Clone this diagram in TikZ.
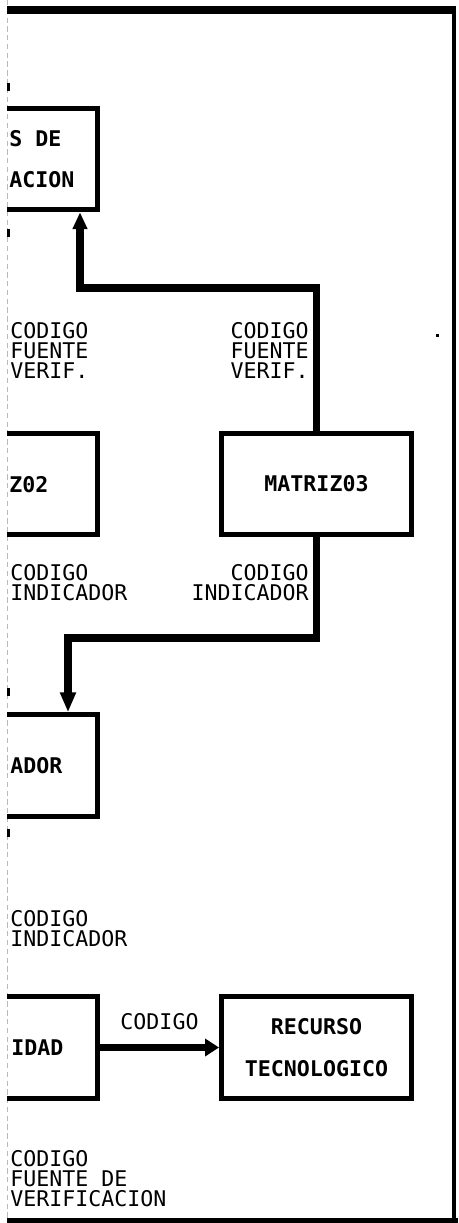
\documentclass[tikz,border=0pt]{standalone}
\usepackage{fontspec}
\setmonofont{DejaVu Sans Mono}
\usetikzlibrary{arrows.meta,positioning,calc}
\tikzset{
  caja/.style={draw,line width=2.8pt,minimum width=3.8cm,minimum height=2.03cm,inner sep=0pt,
    align=center,font=\ttfamily\bfseries\fontsize{12.3}{23.8}\selectfont},
  trozo/.style={inner sep=0pt,font=\ttfamily\bfseries\fontsize{12.3}{23.8}\selectfont},
  etiq/.style={inner sep=0pt,align=left,font=\ttfamily\fontsize{12.3}{11.4}\selectfont},
  flecha/.style={line width=4.5pt,-{Triangle[length=0.34cm,width=0.28cm]}},
  marca/.style={fill,inner sep=0pt,minimum width=0.05cm,minimum height=0.16cm},
}

\begin{document}
\begin{tikzpicture}[x=0.02cm,y=-0.02cm]
  \useasboundingbox (0,0) rectangle (458,1223);
  \draw[gray!55,line width=0.5pt,densely dashed] (7.5,0) -- (7.5,1223);
  \begin{scope}
    \clip (7,0) rectangle (458,1223);
    \draw[line width=4.5pt] (7,10) -- (456,10);
    \draw[line width=2.3pt] (454,8) -- (454,1223);
    \draw[line width=3pt] (7,1221) -- (458,1221);
    \node[caja] (fv)  at (2.5,159) {};
    \node[caja] (m02) at (2.5,484) {};
    \node[caja] (ind) at (2.5,765.5) {};
    \node[caja] (act) at (2.5,1047.5) {};
  \end{scope}
  \node[trozo,anchor=base west] (fv1) at (9,147) {S DE};
  \node[trozo,anchor=base west] (fv2) at (9,188) {ACION};
  \node[trozo,anchor=base west] (m02t) at (9,492) {Z02};
  \node[trozo,anchor=base west] (indt) at (10,773) {ADOR};
  \node[trozo,anchor=base west] (actt) at (11,1055) {IDAD};
  \node[caja] (m03) at (316.5,484) {MATRIZ03};
  \node[caja] (rec) at (316.5,1047.5) {RECURSO\\TECNOLOGICO};

  \coordinate (q1) at (80,288);
  \coordinate (q2) at (68,638);
  \draw[flecha] (m03.north) |- (q1) -- (q1 |- fv.south);
  \draw[flecha,-{Triangle[length=0.4cm,width=0.3cm]}] (m03.south) |- (q2) -- (q2 |- ind.north);
  \draw[flecha,-{Triangle[length=0.28cm,width=0.34cm]}] (act.east) --
    node[etiq,above=0.28cm] (codigo) {CODIGO} (rec.west);

  \node[etiq,anchor=north west] (e1) at (10,322) {CODIGO\\FUENTE\\VERIF.};
  \node[etiq,anchor=north east,align=right] (e2) at (309,322) {CODIGO\\FUENTE\\VERIF.};
  \node[etiq,anchor=north west] (e3) at (10,564) {CODIGO\\INDICADOR};
  \node[etiq,anchor=north east,align=right] (e4) at (309,564) {CODIGO\\INDICADOR};
  \node[etiq,anchor=north west] (e5) at (10,910) {CODIGO\\INDICADOR};
  \node[etiq,anchor=north west] (e6) at (10,1150) {CODIGO\\FUENTE DE\\VERIFICACION};

  \node[marca] (t1) at (8.5,87) {};
  \node[marca] (t2) at (8.5,233) {};
  \node[marca] (t3) at (8.5,692) {};
  \node[marca] (t4) at (8.5,833) {};
  \fill (436,334) rectangle (438.5,336.5);
\end{tikzpicture}
\end{document}
